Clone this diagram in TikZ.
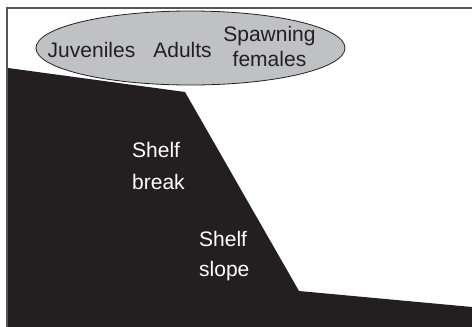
\documentclass[tikz,border=0pt]{standalone}
\usepackage{fontspec}
\setmainfont{Liberation Sans}
\usetikzlibrary{shapes.geometric}
\definecolor{ink}{RGB}{35,31,32}
\definecolor{haze}{RGB}{191,193,197}
\definecolor{rim}{RGB}{85,85,85}
\begin{document}
\begin{tikzpicture}[x=1pt,y=-1pt,font=\fontsize{21}{25}\selectfont]
  \useasboundingbox (0,0) rectangle (472,327);
  \draw[rim,line width=1.6pt] (7,327) -- (7,8) -- (472,8);
  \fill[ink] (8,68) -- (185,92) -- (299,291) -- (472,307) -- (472,327) -- (8,327) -- cycle;
  \node[ellipse,draw=ink,fill=haze,line width=0.8pt,minimum width=309pt,minimum height=74pt,inner sep=0pt] (zone) at (190.5,48) {};
  \node[ink,anchor=base,inner sep=0pt] (juv) at (91.5,57) {Juveniles};
  \node[ink,anchor=base,inner sep=0pt] (adu) at (182.5,57) {Adults};
  \node[ink,anchor=north,align=center,inner sep=0pt] (spa) at (269.5,26) {Spawning\\females};
  \node[white,anchor=north west,align=left,inner sep=0pt,font=\fontsize{21}{32}\selectfont] (brk) at (132,141.7) {Shelf\\break};
  \node[white,anchor=north west,align=left,inner sep=0pt,font=\fontsize{21}{30}\selectfont] (slp) at (199,230.7) {Shelf\\slope};
\end{tikzpicture}
\end{document}
